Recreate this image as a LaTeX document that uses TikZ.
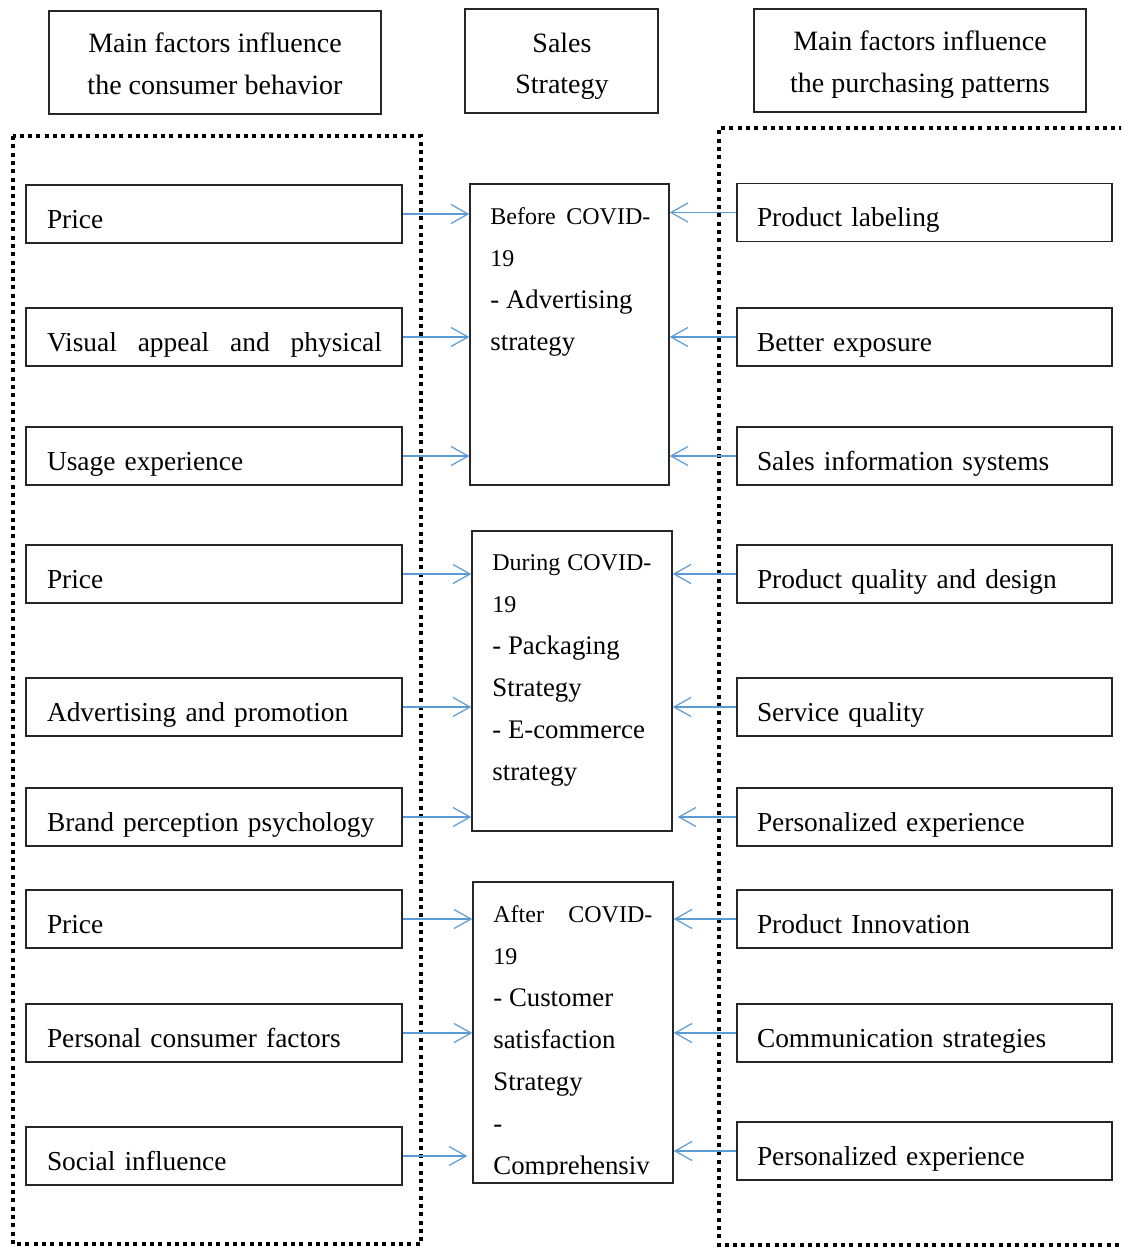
\documentclass[tikz,border=0pt]{standalone}
\usepackage{fontspec}
\setmainfont{Liberation Serif}
\usetikzlibrary{arrows.meta}
\definecolor{arrblue}{RGB}{91,155,213}
\newcommand\smallfirst{\fontsize{12}{21}\selectfont}
\hyphenpenalty=10000
\begin{document}
\begin{tikzpicture}[x=0.5pt,y=-0.5pt,
  bx/.style={draw=black!85, line width=0.75pt, inner sep=0pt},
  item/.style={bx, minimum height=29pt, inner xsep=10.5pt, inner ysep=0pt,
    text width=167pt, align=left, text height=14pt, text depth=0pt,
    font=\fontsize{13.7}{21}\selectfont},
  ritem/.style={item, inner xsep=10pt, text width=167.5pt},
  ln/.style={anchor=base west, inner sep=0pt, font=\fontsize{13.4}{21}\selectfont},
  hl/.style={anchor=base, inner sep=0pt, font=\fontsize{14}{21}\selectfont},
  arr/.style={draw=arrblue, line width=0.6pt,
    -{Straight Barb[length=8.5pt, width=9.5pt, line width=0.6pt]}},
  dotline/.style={line width=2pt, dash pattern=on 2pt off 2.15pt}
]
\useasboundingbox (0,0) rectangle (1121,1248);
\clip (0,0) rectangle (1121,1248);

% headers
\node[bx, minimum width=166pt, minimum height=51.5pt] (h1) at (215,62.5) {};
\node[hl] (h1a) at (215,52) {Main factors influence};
\node[hl] (h1b) at (215,94) {the consumer behavior};
\node[bx, minimum width=96.5pt, minimum height=52pt] (h2) at (561.5,61) {};
\node[hl] (h2a) at (562,52) {Sales};
\node[hl] (h2b) at (562,93) {Strategy};
\node[bx, minimum width=166pt, minimum height=51.5pt] (h3) at (920,60.5) {};
\node[hl] (h3a) at (920,50) {Main factors influence};
\node[hl] (h3b) at (920,92) {the purchasing patterns};

% dotted groups
\draw[dotline] (13,136) rectangle (421,1244);
\draw[dotline] (1140,128) -- (719,128) -- (719,1245) -- (1140,1245);

% left items
\node[item] (l1) at (214,214) {Price};
\node[item] (l2) at (214,337) {\hbox to 167.5pt{Visual\hfill appeal\hfill and\hfill physical}};
\node[item] (l3) at (214,456) {Usage experience};
\node[item] (l4) at (214,574) {Price};
\node[item] (l5) at (214,707) {Advertising and promotion};
\node[item] (l6) at (214,817) {Brand perception psychology};
\node[item] (l7) at (214,919) {Price};
\node[item] (l8) at (214,1033) {Personal consumer factors};
\node[item] (l9) at (214,1156) {Social influence};

% right items
\node[ritem] (r1) at (924.5,212.5) {Product labeling};
\node[ritem] (r2) at (924.5,337) {Better exposure};
\node[ritem] (r3) at (924.5,456) {Sales information systems};
\node[ritem] (r4) at (924.5,574) {Product quality and design};
\node[ritem] (r5) at (924.5,707) {Service quality};
\node[ritem] (r6) at (924.5,817) {Personalized experience};
\node[ritem] (r7) at (924.5,919) {Product Innovation};
\node[ritem] (r8) at (924.5,1033) {Communication strategies};
\node[ritem] (r9) at (924.5,1151) {Personalized experience};

% centre boxes
\node[bx, minimum width=99.5pt, minimum height=150.5pt] (c1) at (569.5,334.5) {};
\node[ln] (c1a) at (490,224) {\smallfirst\hbox to 80pt{Before\hfill COVID-}};
\node[ln] (c1b) at (490,266) {\smallfirst 19};
\node[ln] (c1c) at (490,308) {- Advertising};
\node[ln] (c1d) at (490,350) {strategy};

\node[bx, minimum width=100pt, minimum height=150pt] (c2) at (572,681) {};
\node[ln] (c2a) at (492,570) {\smallfirst\hbox to 79.5pt{During\hfill COVID-}};
\node[ln] (c2b) at (492,612) {\smallfirst 19};
\node[ln] (c2c) at (492,654) {- Packaging};
\node[ln] (c2d) at (492,696) {Strategy};
\node[ln] (c2e) at (492,738) {- E-commerce};
\node[ln] (c2f) at (492,780) {strategy};

\node[bx, minimum width=100pt, minimum height=150.5pt] (c3) at (573,1032.5) {};
\begin{scope}
\clip (c3.north west) rectangle (673,1174);
\node[ln] (c3a) at (493,922) {\smallfirst\hbox to 79.5pt{After\hfill COVID-}};
\node[ln] (c3b) at (493,964) {\smallfirst 19};
\node[ln] (c3c) at (493,1006) {- Customer};
\node[ln] (c3d) at (493,1048) {satisfaction};
\node[ln] (c3e) at (493,1090) {Strategy};
\node[ln] (c3f) at (493,1132) {-};
\node[ln] (c3g) at (493,1174) {Comprehensiv};
\end{scope}

% arrows left -> centre
\draw[arr] (l1.east) -- (l1.east -| c1.west);
\draw[arr] (l2.east) -- (l2.east -| c1.west);
\draw[arr] (l3.east) -- (l3.east -| c1.west);
\draw[arr] (l4.east) -- (l4.east -| c2.west);
\draw[arr] (l5.east) -- (l5.east -| c2.west);
\draw[arr] (l6.east) -- (l6.east -| c2.west);
\draw[arr] (l7.east) -- (l7.east -| c3.west);
\draw[arr] (l8.east) -- (l8.east -| c3.west);
\draw[arr, shorten >=2.5pt] (l9.east) -- (l9.east -| c3.west);

% arrows right -> centre
\draw[arr] (r1.west) -- (r1.west -| c1.east);
\draw[arr] (r2.west) -- (r2.west -| c1.east);
\draw[arr] (r3.west) -- (r3.west -| c1.east);
\draw[arr] (r4.west) -- (r4.west -| c2.east);
\draw[arr] (r5.west) -- (r5.west -| c2.east);
\draw[arr, shorten >=2.5pt] (r6.west) -- (r6.west -| c2.east);
\draw[arr] (r7.west) -- (r7.west -| c3.east);
\draw[arr] (r8.west) -- (r8.west -| c3.east);
\draw[arr] (r9.west) -- (r9.west -| c3.east);
\end{tikzpicture}
\end{document}
